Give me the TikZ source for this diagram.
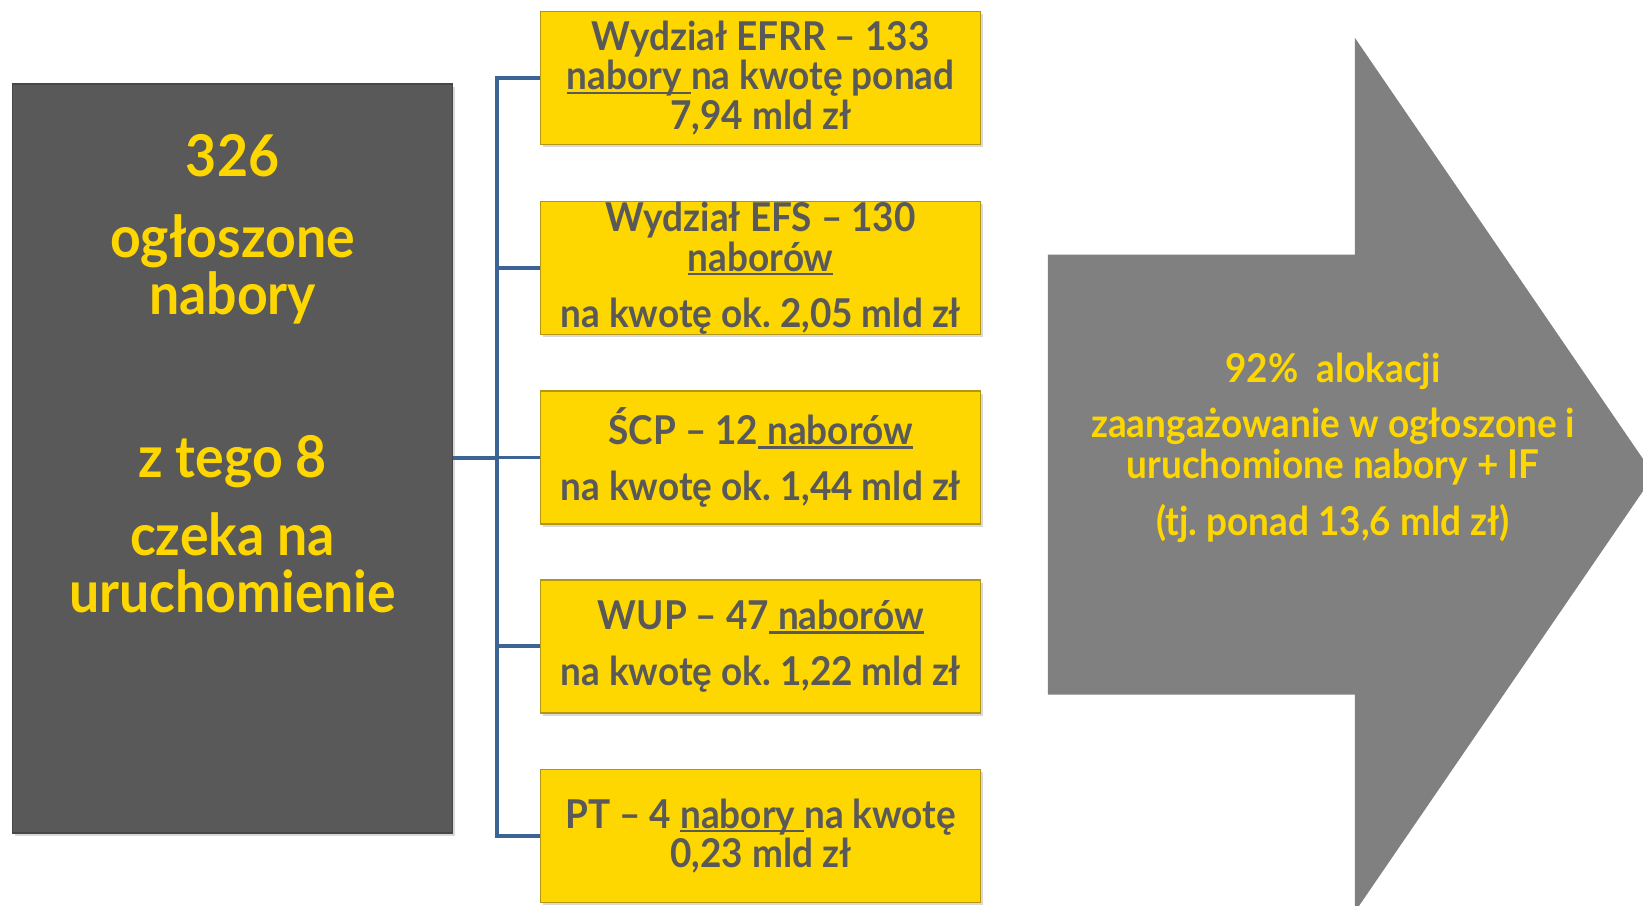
\documentclass[tikz,border=0pt]{standalone}
\usepackage{fontspec}
\setmainfont{Lato}[FakeStretch=0.93]
\usetikzlibrary{shadows}
\definecolor{zolty}{RGB}{255,215,0}
\definecolor{grafit}{RGB}{89,89,89}
\definecolor{szary}{RGB}{128,128,128}
\definecolor{niebieski}{RGB}{59,99,150}
\definecolor{obrys}{RGB}{178,150,20}
\newcommand{\podkr}[1]{\setbox0\hbox{#1}\rlap{\rule[-0.11em]{\wd0}{0.06em}}\box0}
\frenchspacing

\begin{document}
\begin{tikzpicture}
	\tikzstyle{every node}=[font=\bfseries]
	\tikzstyle{ciemny}=[draw=grafit!80!black, fill=grafit, minimum width=4.4cm, minimum height=7.492cm, inner sep=0pt, drop shadow={opacity=0.3, shadow xshift=0.6pt, shadow yshift=-0.8pt}]
	\tikzstyle{ciemnytxt}=[text=zolty, align=center, inner sep=0pt, font=\bfseries\fontsize{16.4}{16.2}\selectfont]
	\tikzstyle{zoltybox}=[draw=obrys, fill=zolty, text=grafit, minimum width=4.4cm, minimum height=1.33cm, inner sep=0pt, align=center, font=\bfseries\fontsize{11.3}{11.3}\selectfont, drop shadow={opacity=0.3, shadow xshift=0.6pt, shadow yshift=-0.8pt}]
	\tikzstyle{polacz}=[draw=niebieski, line width=1.1pt]
	\tikzstyle{strzalkatxt}=[text=zolty, align=center, inner sep=0pt, font=\bfseries\fontsize{11.3}{11.7}\selectfont]

	\useasboundingbox (0,0) rectangle (16.43,9.05);
	\clip (0,0) rectangle (16.43,9.05);

	% lewa kolumna
	\node [ciemny] (ogolem) at (2.326,4.466) {};
	\node [ciemnytxt, anchor=north] (ogolemtxt) at (2.326,7.71)
	{326\\[6.8pt] ogłoszone\\ nabory\\[30.2pt] z tego 8\\[6pt] czeka na\\ uruchomienie};

	% wydzialy
	\node [zoltybox] (efrr) at (7.607,8.27) {Wydział EFRR – 133\\ \podkr{nabory\ }na kwotę ponad\\ 7,94 mld zł};
	\node [zoltybox] (efs) at (7.607,6.37) {Wydział EFS – 130\\ \podkr{naborów}\\[4.7pt] na kwotę ok. 2,05 mld zł};
	\node [zoltybox] (scp) at (7.607,4.475) {ŚCP – 12\podkr{\ naborów}\\[4.8pt] na kwotę ok. 1,44 mld zł};
	\node [zoltybox] (wup) at (7.607,2.587) {WUP – 47\podkr{\ naborów}\\[4.8pt] na kwotę ok. 1,22 mld zł};
	\node [zoltybox] (pt) at (7.607,0.69) {PT – 4 \podkr{nabory\ }na kwotę\\ 0,23 mld zł};

	% polaczenia
	\coordinate (szyna) at (4.966,4.466);
	\draw [polacz] (ogolem.east) -- (szyna);
	\draw [polacz] (efrr.west) -| (szyna) |- (pt.west);
	\draw [polacz] (szyna |- efs.west) -- (efs.west);
	\draw [polacz] (szyna |- scp.west) -- (scp.west);
	\draw [polacz] (szyna |- wup.west) -- (wup.west);

	% strzalka
	\fill [szary] (10.478,6.504) -- (13.548,6.504) -- (13.548,8.673) -- (16.54,4.30) -- (13.548,-0.07) -- (13.548,2.103) -- (10.478,2.103) -- cycle;
	\node [strzalkatxt, anchor=north] (alokacja) at (13.33,5.53)
	{92\%\ \ alokacji\\[3.9pt] zaangażowanie w ogłoszone i\\ uruchomione nabory + IF\\[4.6pt] (tj. ponad 13,6 mld zł)};
\end{tikzpicture}
\end{document}
